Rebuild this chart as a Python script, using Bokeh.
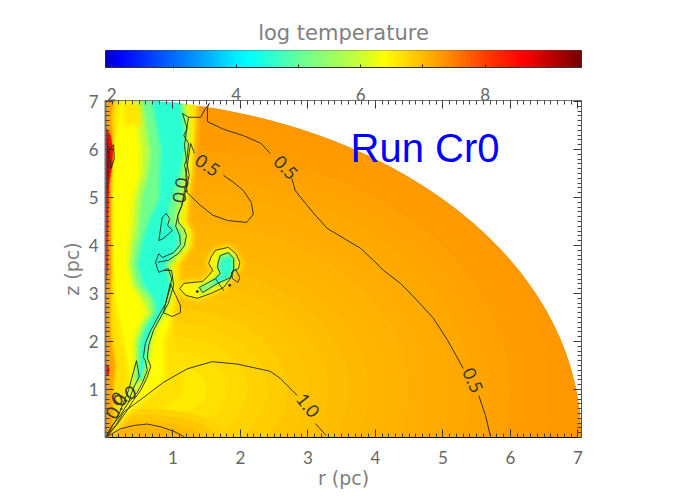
import numpy as np
from bokeh.plotting import figure
from bokeh.layouts import column
from bokeh.models import FixedTicker, LinearAxis, Range1d
from bokeh.core.properties import value
from bokeh.embed import file_html
from bokeh.resources import INLINE

# colour scale of log temperature
cb_vals = [1.9, 2.1, 3.0, 3.5, 4.0, 4.2, 5.0, 6.0, 6.37, 7.0, 7.5, 8.0, 8.6, 9.2, 9.55]
cb_r = [0, 0, 0, 0, 0, 0, 102, 204, 255, 255, 255, 255, 255, 170, 112]
cb_g = [0, 0, 109, 170, 240, 255, 255, 255, 255, 187, 128, 60, 0, 0, 0]
cb_b = [190, 255, 255, 255, 255, 255, 153, 51, 0, 0, 0, 0, 0, 0, 0]
cb_ticks = [2, 4, 6, 8]
cb_minor = [2, 3, 4, 5, 6, 7, 8, 9]


def col(v):
    return "#%02x%02x%02x" % (int(np.interp(v, cb_vals, cb_r)),
                              int(np.interp(v, cb_vals, cb_g)),
                              int(np.interp(v, cb_vals, cb_b)))


# field: rim disc and isotherm ellipses
rim_radius = 7.05
rim_level = 7.3
iso_r0 = 1.0
iso_z0 = 1.0
iso_radius = [5.6, 5.3, 5.0, 4.7, 4.4, 4.1, 3.8, 3.5, 3.2, 2.9, 2.6, 2.3, 2.0, 1.7, 1.4, 1.1, .8, .5]
iso_level = [7.27, 7.25, 7.22, 7.19, 7.16, 7.13, 7.11, 7.08, 7.05, 7.02, 6.98, 6.94, 6.89, 6.84, 6.78, 6.72, 6.65, 6.56]
hot_r = [.6, .6, .6, .6]
hot_z = [0, 0, 0, 0]
hot_w = [2.4, 2.0, 1.6, 1.2]
hot_h = [1.2, .95, .7, .45]
hot_level = [6.78, 6.88, 6.97, 7.05]

# cool flow: edges of each temperature band at these heights
z_rows = [7.05, 6.5, 6.0, 5.5, 5.0, 4.5, 4.25, 4.0, 3.6, 3.2, 2.9, 2.6, 2.3, 2.0, 1.6, 1.25, 0.9, 0.6, 0.3, 0.0]
gold_right = [1.35, 1.33, 1.30, 1.27, 1.22, 1.20, 1.28, 1.26, 1.08, 1.08, 1.05, 1.0, 0.98, 1.0, 1.05, 1.12, 1.1, 0.8, 0.35, 0.05]
yellow_left = [.24, .2, .12, .11, .1, .1, .1, .11, .13, .14, .16, .2, .24, .28, .34, .38, .36, .28, .15, 0]
yellow_right = [1.2, 1.24, 1.24, 1.23, 1.18, 1.12, 1.22, 1.22, 1.0, 1.0, .98, .95, .92, .85, .85, .85, .65, .38, .2, .02]
lime_left = [.45, .5, .55, .55, .45, .42, .40, .38, .36, .42, .55, .65, .52, .46, .46, .44, .33]
lime_right = [1.16, 1.2, 1.2, 1.18, 1.13, 1.08, 1.18, 1.18, .95, .97, .93, .85, .72, .65, .62, .55, .38]
green_left = [.55, .62, .68, .65, .55, .52, .50, .46, .42, .48, .66, .72, .58, .5, .5, .47]
green_right = [1.12, 1.17, 1.17, 1.13, 1.07, 1.0, 1.12, 1.12, .9, .95, .9, .83, .69, .62, .58, .53]
cyan_left = [.7, .77, .84, .82, .82, .66, .6, .55, .5, .58, .74, .77, .63, .54, .53, .5]
cyan_right = [1.08, 1.13, 1.15, 1.08, .95, .88, 1.06, 1.04, .87, .94, .88, .81, .67, .6, .57, .52]
band_levels = [6.65, 6.38, 5.9, 5.1, 4.55]

# hot strip on the axis
strip_z = [7.05, 6.6, 6.4, 5.0, 4.0, 3.5, 3.0, 2.5, 2.0, 1.5, 1.0, .5, 0]
strip_w = [.12, .08, .1, .08, .08, .08, .07, .06, .08, .14, .1, .1, .08]
red_z = [6.45, 6.3, 6.0, 5.7, 5.3, 4.8, 4.0, 3.5, 3.2]
red_w = [0, .07, .11, .10, .05, .04, .03, .03, 0]
dark_z = [6.4, 6.0, 5.6, 5.0, 4.6]
dark_w = [0, .05, .05, .02, 0]

# contours
c05a_r = [1.54, 1.51, 1.51, 1.75, 2.04, 2.30, 2.44]
c05a_z = [6.96, 6.875, 6.58, 6.42, 6.29, 6.13, 5.92]
c05b_r = [2.76, 2.81, 2.96, 3.11, 3.29, 3.53, 3.78, 3.97, 4.12, 4.37, 4.62, 4.86, 5.07, 5.30]
c05b_z = [5.40, 5.15, 4.88, 4.63, 4.35, 4.15, 3.94, 3.69, 3.48, 3.21, 2.85, 2.48, 2.02, 1.44]
c05c_r = [5.53, 5.63, 5.70]
c05c_z = [0.875, 0.46, 0.04]
c05d_r = [1.75, 1.90, 2.04, 2.16, 2.19, 2.09, 1.81, 1.59, 1.41, 1.21, 1.19, 1.26, 1.32]
c05d_z = [5.46, 5.31, 5.15, 4.90, 4.65, 4.48, 4.52, 4.63, 4.83, 5.10, 5.46, 6.125, 5.92]
c10a_r = [0, .15, .27, .57, .86, 1.21, 1.58, 1.95, 2.44, 2.59, 2.84]
c10a_z = [0, .25, .53, .84, 1.15, 1.43, 1.58, 1.53, 1.38, 1.23, .875]
c10b_r = [3.11, 3.27]
c10b_z = [.29, .04]
c10c_r = [0, .22, .42, .62, .84, 1.01, 1.16]
c10c_z = [0, .18, .25, .28, .215, .13, .02]
main1_r = [0, .10, .22, .34, .47, .55, .62, .59, .56, .59, .67, .79, .89, .96, .98, .93, .79, .74, .79, .84, 1.01, 1.11, 1.10, 1.04, 1.07, 1.13, 1.19, 1.24, 1.20, 1.17, 1.20, 1.23]
main1_z = [0, .25, .46, .73, .94, 1.15, 1.40, 1.60, 1.67, 1.96, 2.23, 2.54, 2.79, 3.13, 3.31, 3.52, 3.44, 3.65, 3.83, 3.75, 3.85, 4.02, 4.21, 4.40, 4.625, 4.83, 5.15, 5.46, 5.77, 6.08, 6.40, 6.67]
main2_r = [0, .16, .30, .41, .52, .61, .67, .62, .64, .71, .83, .93, 1.01, .98, .86]
main2_z = [0, .25, .52, .77, .98, 1.23, 1.48, 1.65, 1.92, 2.23, 2.54, 2.79, 3.17, 3.48, 3.48]
outer_r = [.77, .93, 1.08, 1.17, 1.20, 1.16, 1.08, 1.07, 1.13, 1.17, 1.21, 1.17, 1.21, 1.23, 1.16, 1.21, 1.14, 1.23, 1.41, 1.48, 1.54]
outer_z = [3.65, 3.69, 3.83, 4.00, 4.21, 4.35, 4.48, 4.625, 4.83, 5.15, 5.42, 5.67, 5.83, 6.125, 6.29, 6.44, 6.75, 6.67, 6.67, 6.85, 6.96]
loop_r = [.79, .84, .90, .95, .92, .99, .86, .79]
loop_z = [4.10, 4.58, 4.67, 4.56, 4.42, 4.31, 4.15, 4.10]
spike_r = [0, .18, .34, .46, .50, .41, .34]
spike_z = [0, .42, .98, 1.60, 1.27, 1.02, .73]
lobe_r = [.96, .86, .99, 1.11, 1.11, 1.04, .96]
lobe_z = [3.21, 2.60, 2.52, 2.60, 2.75, 2.96, 3.21]
swirl_r = [1.53, 1.56, 1.63, 1.82, 1.93, 1.99, 1.97, 1.90, 1.85, 1.75, 1.56, 1.36, 1.19, 1.10, 1.16, 1.44, 1.53, 1.59, 1.53]
swirl_z = [3.625, 3.75, 3.90, 3.96, 3.83, 3.65, 3.52, 3.48, 3.31, 3.125, 3.00, 2.90, 2.96, 3.10, 3.21, 3.25, 3.375, 3.48, 3.625]
inner_r = [1.67, 1.70, 1.82, 1.90, 1.90, 1.85, 1.66, 1.44, 1.39, 1.63, 1.70, 1.66, 1.67]
inner_z = [3.65, 3.79, 3.85, 3.73, 3.52, 3.33, 3.21, 3.02, 3.125, 3.31, 3.42, 3.54, 3.65]
core_r = [1.72, 1.85, 1.87, 1.80, 1.62, 1.62, 1.74, 1.70]
core_z = [3.70, 3.75, 3.50, 3.35, 3.22, 3.28, 3.40, 3.55]
small_r = [1.87, 1.93, 1.99, 1.96, 1.88, 1.87]
small_z = [3.44, 3.50, 3.33, 3.23, 3.31, 3.44]
tail_r = [1.63, 1.75]
tail_z = [3.31, 3.06]
strip_loop_r = [.05, .12, .13, .08, .05]
strip_loop_z = [6.0, 6.1, 5.8, 5.6, 6.0]
label_text = ["0.5", "0.5", "0.5", "1.0", "0.0", "0.0", "0.0"]
label_r = [1.51, 2.67, 5.44, 3.0, 1.11, .16, .27]
label_z = [5.67, 5.625, 1.19, .67, 5.15, .65, .87]
label_angle = [-.6, -.8, -1.15, -.9, 1.4, 1.05, .45]
dot_r = [1.36, 1.84]
dot_z = [3.04, 3.17]

r_major = [1, 2, 3, 4, 5, 6, 7]
axis_minor = [i / 10 for i in range(0, 71)]

TICK_FONT = "Lato"
TICK_COL = "#666666"
no_label = {t: "" for t in r_major + cb_minor}

# ---------- colour bar ----------
cb = figure(width=692, height=74, x_range=(1.9, 9.55), y_range=(0, 1),
            toolbar_location=None, output_backend="svg",
            min_border_left=105, min_border_right=111, min_border_top=50, min_border_bottom=7,
            title="log temperature", x_axis_location=None, y_axis_location=None)
cb.title.align = "center"
cb.title.text_font = "DejaVu Sans"
cb.title.text_font_size = "21px"
cb.title.text_font_style = "normal"
cb.title.text_color = "#808080"
cb.title.standoff = 11
cb.grid.visible = False
cb.outline_line_color = "#444444"
ramp_edges = np.linspace(1.9, 9.55, 239)
cb.quad(left=ramp_edges[:-1], right=ramp_edges[1:], bottom=0, top=1,
        fill_color=[col(v) for v in ramp_edges[:-1]],
        line_color=[col(v) for v in ramp_edges[:-1]], line_width=1)
cb_ax = LinearAxis(ticker=FixedTicker(ticks=cb_minor), major_label_overrides=no_label,
                   major_tick_in=3, major_tick_out=0, axis_line_color="#333333",
                   major_tick_line_color="#333333")
cb.add_layout(cb_ax, "below")

# ---------- main panel ----------
p = figure(width=692, height=418, x_range=(0, 7.052), y_range=(0, 7.02),
           toolbar_location=None, output_backend="svg",
           min_border_left=105, min_border_right=111, min_border_top=26, min_border_bottom=55,
           x_axis_label="r (pc)", y_axis_label="z (pc)")
p.grid.visible = False
p.outline_line_color = "#333333"
p.extra_x_ranges = {"cbar": Range1d(1.9, 9.55)}

p.ellipse(x=[0], y=[0], width=[2 * rim_radius], height=[2 * rim_radius],
          fill_color=col(rim_level), line_color=None)
p.ellipse(x=[iso_r0] * len(iso_radius), y=[iso_z0] * len(iso_radius),
          width=[2 * x for x in iso_radius], height=[2 * x for x in iso_radius],
          fill_color=[col(v) for v in iso_level], line_color=None)


def soft_patch(xs, ys, level, soft):
    c = col(level)
    for k, a in ((4, .10), (3, .14), (2, .2), (1, .3)):
        p.patch(xs, ys, fill_color=None, line_color=c, line_alpha=a, line_width=soft * k, line_join="round")
    p.patch(xs, ys, fill_color=c, line_color=None)


def band(left, right, z, level, soft):
    xs = list(left) + list(right)[::-1]
    ys = list(z) + list(z)[::-1]
    soft_patch(xs, ys, level, soft)


band([0] * len(z_rows), gold_right, z_rows, band_levels[0], 3)
for i in range(len(hot_w)):
    p.ellipse(x=[hot_r[i]], y=[hot_z[i]], width=[hot_w[i]], height=[hot_h[i]],
              fill_color=col(hot_level[i]), line_color=None)
band(yellow_left, yellow_right, z_rows, band_levels[1], 3)
band(lime_left, lime_right, z_rows[:17], band_levels[2], 3)
band(green_left, green_right, z_rows[:16], band_levels[3], 3)
band(cyan_left, cyan_right, z_rows[:16], band_levels[4], 2)

soft_patch([.3, .48, .5, .32], [6.9, 6.9, 6.55, 6.55], 6.6, 3)
band([0] * len(strip_z), strip_w, strip_z, 7.2, 1.5)
band([0] * len(red_z), red_w, red_z, 8.5, .6)
band([0] * len(dark_z), dark_w, dark_z, 9.3, .4)
p.ellipse(x=[0], y=[1.4], width=[.12], height=[.25], fill_color=col(8.5), line_color=None)

soft_patch(swirl_r, swirl_z, 6.45, 3)
soft_patch(inner_r, inner_z, 5.4, 2)
soft_patch(core_r, core_z, 4.6, 2)

# white outside the rim
arc_t = np.linspace(0, np.pi / 2, 120)
p.patch(list(rim_radius * np.cos(arc_t)) + [8, 8], list(rim_radius * np.sin(arc_t)) + [8, 0],
        fill_color="white", line_color=None)

LC = "#262626"
contours = [(c05a_r, c05a_z), (c05b_r, c05b_z), (c05c_r, c05c_z), (c05d_r, c05d_z),
            (c10a_r, c10a_z), (c10b_r, c10b_z), (c10c_r, c10c_z), (main1_r, main1_z),
            (main2_r, main2_z), (outer_r, outer_z), (loop_r, loop_z), (spike_r, spike_z),
            (lobe_r, lobe_z), (swirl_r, swirl_z), (inner_r, inner_z), (small_r, small_z),
            (tail_r, tail_z), (strip_loop_r, strip_loop_z)]
for xs, ys in contours:
    p.line(xs, ys, line_color=LC, line_width=0.9)
p.scatter(dot_r, dot_z, size=2, color=LC)
p.text(label_r, label_z, text=label_text, angle=label_angle, text_align="center",
       text_baseline="middle", text_font=value("Lato"), text_font_size="18px", text_color="#3a3a3a")
p.text([3.63], [6.04], text=["Run Cr0"], text_font=value("Liberation Sans"), text_font_size="40px",
       text_color="#0000ff", text_baseline="alphabetic")

tick = FixedTicker(ticks=r_major, minor_ticks=axis_minor)
for ax in (p.xaxis[0], p.yaxis[0]):
    ax.ticker = tick
    ax.major_tick_in = 8
    ax.major_tick_out = 0
    ax.minor_tick_in = 4
    ax.minor_tick_out = 0
    ax.major_tick_line_color = "#333333"
    ax.minor_tick_line_color = "#444444"
    ax.major_label_text_font = TICK_FONT
    ax.major_label_text_font_size = "17px"
    ax.major_label_text_color = TICK_COL
    ax.axis_label_text_font = "DejaVu Sans"
    ax.axis_label_text_font_size = "19px"
    ax.axis_label_text_font_style = "normal"
    ax.axis_label_text_color = "#808080"
p.xaxis[0].major_label_standoff = 13
p.xaxis[0].axis_label_standoff = 0
p.yaxis[0].major_label_standoff = 7
p.yaxis[0].major_label_orientation = "horizontal"
p.yaxis[0].axis_label_standoff = 3
p.yaxis[0].axis_line_color = "#777777"
p.yaxis[0].axis_line_width = 2

top_r = LinearAxis(ticker=FixedTicker(ticks=r_major, minor_ticks=axis_minor),
                   major_label_overrides={t: "" for t in r_major},
                   major_tick_in=8, major_tick_out=0,
                   minor_tick_in=4, minor_tick_out=0, axis_line_color="#777777",
                   major_tick_line_color="#333333", minor_tick_line_color="#444444",
                   major_label_standoff=0)
p.add_layout(top_r, "above")
top_c = LinearAxis(x_range_name="cbar", ticker=FixedTicker(ticks=cb_ticks),
                   major_label_text_font=TICK_FONT, major_label_text_font_size="17px",
                   major_label_text_color=TICK_COL, major_label_standoff=0,
                   major_tick_in=0, major_tick_out=0, axis_line_color=None)
p.add_layout(top_c, "above")
right_z = LinearAxis(ticker=FixedTicker(ticks=r_major, minor_ticks=axis_minor),
                     major_label_overrides={t: "" for t in r_major},
                     major_tick_in=8, major_tick_out=0,
                     minor_tick_in=4, minor_tick_out=0, axis_line_color="#555555",
                     major_tick_line_color="#333333", minor_tick_line_color="#444444")
p.add_layout(right_z, "right")

open("out.html", "w").write(file_html(column(cb, p, spacing=0), INLINE))
